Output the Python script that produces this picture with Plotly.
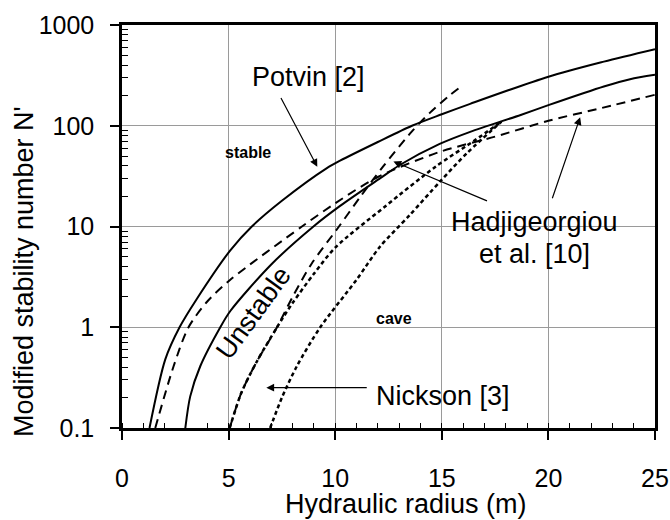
import plotly.graph_objects as go

# ---------------- data ----------------
hr_potvin_upper = [1.29, 2.03, 2.70, 3.5, 5.08, 6.09, 7.5, 9.61, 10.23, 12.0, 13.6, 15.0, 16.33, 20.0, 22.6, 25.0]
n_potvin_upper = [0.1, 0.48, 1.0, 1.9, 5.8, 10, 18, 38, 45, 69, 100, 130, 165, 307, 433, 576]

hr_potvin_lower = [2.97, 3.2, 3.67, 4.61, 5.08, 7.0, 8.98, 10.23, 12.1, 13.05, 14.9, 16.33, 18.7, 20.0, 22.6, 23.83, 25.0]
n_potvin_lower = [0.1, 0.206, 0.41, 1.0, 1.45, 4.2, 10, 16, 30, 41, 66, 87, 128, 160, 245, 290, 320]

hr_hadji_1 = [1.56, 2.42, 3.12, 4.0, 5.08, 8.44, 10.0, 12.0, 14.9, 17.5, 20.0, 22.5, 25.0]
n_hadji_1 = [0.1, 0.41, 1.0, 1.8, 2.96, 10, 17, 31, 55, 78, 112, 150, 203]

hr_hadji_2 = [5.05, 5.6, 6.3, 7.27, 8.0, 8.9, 10.1, 11.2, 12.27, 13.6, 14.45, 15.3, 15.9]
n_hadji_2 = [0.1, 0.224, 0.447, 1.0, 2.0, 4.3, 9.5, 20, 40, 88, 135, 195, 245]

hr_nickson_1 = [5.05, 5.6, 6.3, 7.27, 8.0, 9.0, 10.0, 12.34, 14.69, 16.56, 17.8]
n_nickson_1 = [0.1, 0.224, 0.447, 1.0, 1.74, 3.39, 6.17, 15.8, 39, 72, 110]

hr_nickson_2 = [6.95, 7.5, 8.2, 9.3, 11.0, 12.1, 13.5, 14.92, 16.2, 17.8]
n_nickson_2 = [0.1, 0.2, 0.41, 1.0, 2.96, 6.3, 13, 28, 54, 110]

x_ticks = [0, 5, 10, 15, 20, 25]
y_ticks = [0.1, 1, 10, 100, 1000]
y_tick_text = ["0.1", "1", "10", "100", "1000"]

FONT = "Arial, 'Liberation Sans', sans-serif"

fig = go.Figure()

def add_line(x, y, dash, width):
    fig.add_trace(go.Scatter(
        x=x, y=y, mode="lines",
        line=dict(color="black", width=width, dash=dash, shape="spline", smoothing=0.8),
        showlegend=False, hoverinfo="skip"))

add_line(hr_potvin_upper, n_potvin_upper, "solid", 2)
add_line(hr_potvin_lower, n_potvin_lower, "solid", 2)
add_line(hr_hadji_1, n_hadji_1, "9px,6px", 2)
add_line(hr_hadji_2, n_hadji_2, "9px,6px", 2)
add_line(hr_nickson_1, n_nickson_1, "4px,3px", 2.5)
add_line(hr_nickson_2, n_nickson_2, "4px,3px", 2.5)

minor_y = [m * 10 ** e for e in (-1, 0, 1, 2) for m in range(2, 10)]

fig.update_xaxes(
    range=[0, 25], tickvals=x_ticks, showgrid=True, gridcolor="#9a9a9a", gridwidth=1,
    ticks="outside", ticklen=9, tickwidth=1.5, tickcolor="black",
    showline=True, linewidth=2.5, linecolor="black", mirror=True, zeroline=False,
    tickfont=dict(family=FONT, size=25, color="black"), ticklabelstandoff=17,
    automargin=False,
    minor=dict(ticks="inside", dtick=1, ticklen=5, tickwidth=1.2, tickcolor="black", showgrid=False),
)
fig.update_yaxes(
    type="log", range=[-1, 3], tickvals=y_ticks, ticktext=y_tick_text,
    showgrid=True, gridcolor="#9a9a9a", gridwidth=1,
    ticks="outside", ticklen=9, tickwidth=1.5, tickcolor="black",
    showline=True, linewidth=2.5, linecolor="black", mirror=True, zeroline=False,
    tickfont=dict(family=FONT, size=25, color="black"), ticklabelstandoff=11,
    automargin=False,
    minor=dict(ticks="inside", tickvals=minor_y, ticklen=6, tickwidth=1.2, tickcolor="black", showgrid=False),
)

ann = []
def text(x, y, s, size=27, bold=False, angle=0):
    ann.append(dict(x=x, y=y, xref="x", yref="y", text=("<b>%s</b>" % s) if bold else s,
                    showarrow=False, textangle=angle, xanchor="center", yanchor="middle",
                    font=dict(family=FONT, size=size, color="black")))

def arrow(x, y, ax, ay):
    ann.append(dict(x=x, y=y, ax=ax, ay=ay, xref="x", yref="y", axref="x", ayref="y",
                    text="", showarrow=True, arrowhead=2, arrowsize=1.3, arrowwidth=1.2,
                    arrowcolor="black"))

text(8.73, 2.485, "Potvin [2]")
arrow(9.16, 1.592, 7.42, 2.29)
text(19.34, 1.047, "Hadjigeorgiou")
text(19.34, 0.729, "et al. [10]")
arrow(12.73, 1.645, 17.19, 1.248)
arrow(21.49, 2.085, 20.16, 1.265)
text(15.04, -0.68, "Nickson [3]")
arrow(6.77, -0.6, 11.55, -0.6)
text(5.92, 1.731, "stable", size=16, bold=True)
text(12.77, 0.084, "cave", size=16, bold=True)
text(6.16, 0.144, "Unstable", size=27, angle=-54)

# axis titles as annotations (placed off-centre like the reference)
ann.append(dict(x=-0.185, y=0.388, xref="paper", yref="paper", text="Modified stability number N'",
                showarrow=False, textangle=-90, xanchor="center", yanchor="middle",
                font=dict(family=FONT, size=27, color="black")))
ann.append(dict(x=0.532, y=-0.188, xref="paper", yref="paper", text="Hydraulic radius (m)",
                showarrow=False, xanchor="center", yanchor="middle",
                font=dict(family=FONT, size=27, color="black")))

fig.update_layout(
    width=670, height=520,
    margin=dict(l=122, r=15, t=25, b=92, autoexpand=False),
    plot_bgcolor="white", paper_bgcolor="white",
    annotations=ann, showlegend=False,
)

fig.write_html("out.html", config={"displayModeBar": False},
               post_script="document.body.style.margin='0px';document.body.style.padding='0px';")
